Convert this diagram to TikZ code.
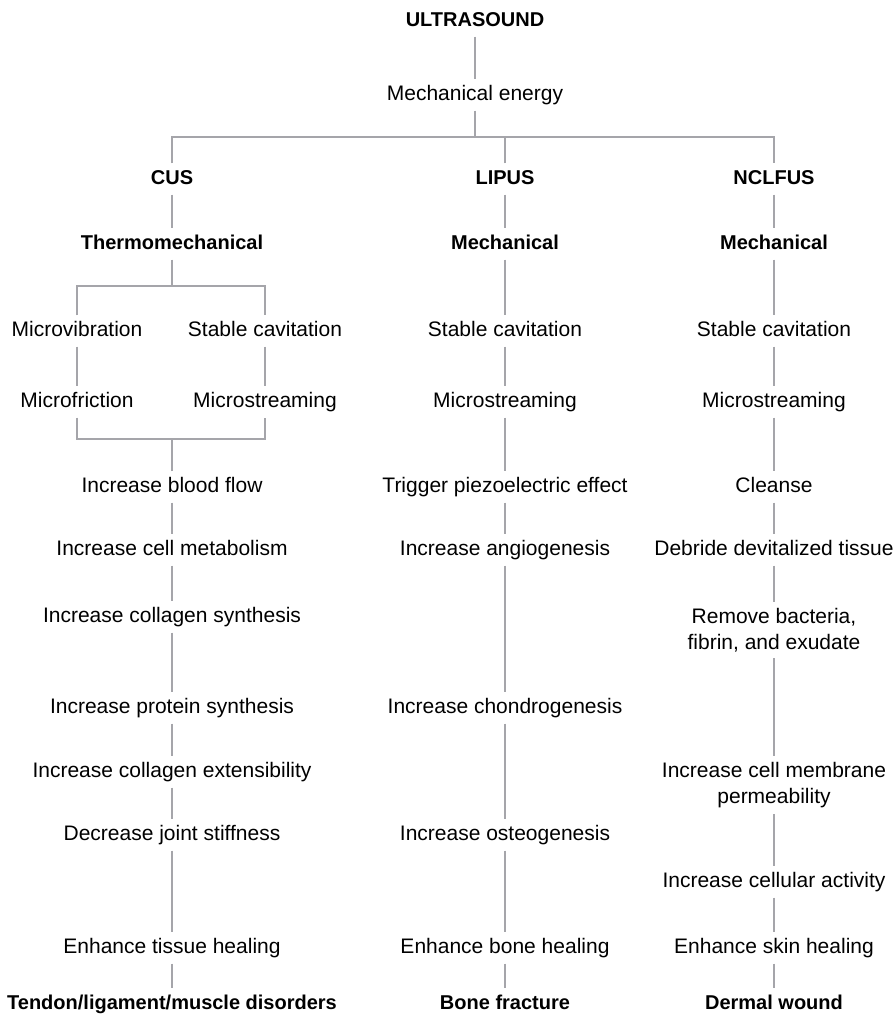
\documentclass[tikz,border=0pt]{standalone}
\usepackage{fontspec}
\setmainfont{Liberation Sans}
\usepackage{tikz}
\definecolor{linegray}{RGB}{165,165,170}

\begin{document}
\begin{tikzpicture}
  [x=1pt,y=-1pt,
   every node/.style={font=\fontsize{21}{26}\selectfont,inner sep=6pt,text height=15pt,text depth=4pt},
   head/.style={font=\fontsize{20}{25}\selectfont\bfseries},
   twoline/.style={align=center,text height=,text depth=},
   link/.style={line width=2pt,color=linegray}]
  \useasboundingbox (0,0) rectangle (895,1020);

  \node[head] (us) at (475,21) {ULTRASOUND};
  \node (me) at (475,95) {Mechanical energy};

  \node[head] (cus) at (172,179) {CUS};
  \node[head] (lipus) at (505,179) {LIPUS};
  \node[head] (ncl) at (774,179) {NCLFUS};

  \node[head] (c1) at (172,244) {Thermomechanical};
  \node[head] (l1) at (505,244) {Mechanical};
  \node[head] (n1) at (774,244) {Mechanical};

  \node (c2a) at (77,331) {Microvibration};
  \node (c2b) at (265,331) {Stable cavitation};
  \node (c3a) at (77,402) {Microfriction};
  \node (c3b) at (265,402) {Microstreaming};
  \node (c4) at (172,487) {Increase blood flow};
  \node (c5) at (172,550) {Increase cell metabolism};
  \node (c6) at (172,617) {Increase collagen synthesis};
  \node (c7) at (172,708) {Increase protein synthesis};
  \node (c8) at (172,772) {Increase collagen extensibility};
  \node (c9) at (172,835) {Decrease joint stiffness};
  \node (c10) at (172,948) {Enhance tissue healing};
  \node[head] (c11) at (172,1004) {Tendon/ligament/muscle disorders};

  \node (l2) at (505,331) {Stable cavitation};
  \node (l3) at (505,402) {Microstreaming};
  \node (l4) at (505,487) {Trigger piezoelectric effect};
  \node (l5) at (505,550) {Increase angiogenesis};
  \node (l6) at (505,708) {Increase chondrogenesis};
  \node (l7) at (505,835) {Increase osteogenesis};
  \node (l8) at (505,948) {Enhance bone healing};
  \node[head] (l9) at (505,1004) {Bone fracture};

  \node (n2) at (774,331) {Stable cavitation};
  \node (n3) at (774,402) {Microstreaming};
  \node (n4) at (774,487) {Cleanse};
  \node (n5) at (774,550) {Debride devitalized tissue};
  \node[twoline] (n6) at (774,630) {Remove bacteria,\\fibrin, and exudate};
  \node[twoline] (n7) at (774,785) {Increase cell membrane\\permeability};
  \node (n8) at (774,882) {Increase cellular activity};
  \node (n9) at (774,948) {Enhance skin healing};
  \node[head] (n10) at (774,1004) {Dermal wound};

  \coordinate (bar) at (475,137);
  \coordinate (split) at (172,286);
  \coordinate (join) at (172,439);

  \draw[link] (us) -- (me);
  \draw[link] (me) -- (me |- bar);
  \draw[link] (cus) -- (cus |- bar) -- (ncl |- bar) -- (ncl);
  \draw[link] (lipus) -- (lipus |- bar);

  \draw[link] (cus) -- (c1);
  \draw[link] (c1) -- (c1 |- split);
  \draw[link] (c2a) -- (c2a |- split) -- (c2b |- split) -- (c2b);
  \draw[link] (c2a) -- (c3a);
  \draw[link] (c2b) -- (c3b);
  \draw[link] (c3a) -- (c3a |- join) -- (c3b |- join) -- (c3b);
  \draw[link] (c4) -- (c4 |- join);
  \foreach \a/\b in {c4/c5,c5/c6,c6/c7,c7/c8,c8/c9,c9/c10,c10/c11}
    \draw[link] (\a) -- (\b);

  \foreach \a/\b in {lipus/l1,l1/l2,l2/l3,l3/l4,l4/l5,l5/l6,l6/l7,l7/l8,l8/l9}
    \draw[link] (\a) -- (\b);

  \foreach \a/\b in {ncl/n1,n1/n2,n2/n3,n3/n4,n4/n5,n5/n6,n6/n7,n7/n8,n8/n9,n9/n10}
    \draw[link] (\a) -- (\b);

\end{tikzpicture}
\end{document}
